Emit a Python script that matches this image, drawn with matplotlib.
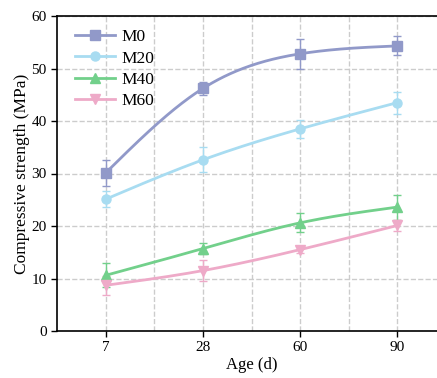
import numpy as np
import matplotlib
matplotlib.use('Agg')
import matplotlib.pyplot as plt

ages = ['7', '28', '60', '90']
series_names = ['M0', 'M20', 'M40', 'M60']
m0 = [30.1, 46.2, 52.8, 54.3]
m0_err = [2.4, 1.3, 2.8, 1.8]
m20 = [25.1, 32.6, 38.5, 43.5]
m20_err = [1.5, 2.4, 1.7, 2.1]
m40 = [10.6, 15.7, 20.6, 23.6]
m40_err = [2.3, 1.1, 1.8, 2.4]
m60 = [8.7, 11.5, 15.5, 20.1]
m60_err = [1.8, 2.0, 0.6, 1.1]

colors = ['#9199c9', '#a8dcf1', '#72d08b', '#eeaac8']
markers = ['s', 'o', '^', 'v']


def natural_spline(x, y, xs):
    # plain natural cubic spline, just for the smooth connecting curve
    x = np.asarray(x, float)
    y = np.asarray(y, float)
    n = len(x)
    h = np.diff(x)
    A = np.zeros((n, n))
    b = np.zeros(n)
    A[0, 0] = 1
    A[-1, -1] = 1
    for i in range(1, n - 1):
        A[i, i - 1] = h[i - 1]
        A[i, i] = 2 * (h[i - 1] + h[i])
        A[i, i + 1] = h[i]
        b[i] = 3 * ((y[i + 1] - y[i]) / h[i] - (y[i] - y[i - 1]) / h[i - 1])
    c = np.linalg.solve(A, b)
    out = np.zeros_like(xs)
    for j, xv in enumerate(xs):
        i = min(max(np.searchsorted(x, xv) - 1, 0), n - 2)
        dx = xv - x[i]
        bi = (y[i + 1] - y[i]) / h[i] - h[i] * (2 * c[i] + c[i + 1]) / 3
        di = (c[i + 1] - c[i]) / (3 * h[i])
        out[j] = y[i] + bi * dx + c[i] * dx ** 2 + di * dx ** 3
    return out


plt.rcParams['font.family'] = ['Liberation Serif', 'DejaVu Serif']

fig = plt.figure(figsize=(4.37, 3.78), dpi=100)
ax = fig.add_axes([57 / 437, 47 / 378, 389 / 437, 315 / 378])

xi = np.arange(len(ages))
xs = np.linspace(0, len(ages) - 1, 200)
data = [(m0, m0_err), (m20, m20_err), (m40, m40_err), (m60, m60_err)]
for (vals, err), name, col, mk in zip(data, series_names, colors, markers):
    ax.plot(xs, natural_spline(xi, vals, xs), color=col, lw=2, zorder=3)
    ax.errorbar(xi, vals, yerr=err, fmt='none', ecolor=col, elinewidth=1,
                capsize=3, capthick=1, zorder=3)
    ax.plot(xi, vals, ls='none', marker=mk, ms=6.5, color=col, zorder=4)
    ax.plot([], [], color=col, lw=2, marker=mk, ms=6.5, label=name)

ax.set_xlim(-0.5, 3.5)
ax.set_ylim(0, 60)
ax.set_xticks(xi)
ax.set_xticklabels(ages)
ax.set_xticks([0.5, 1.5, 2.5], minor=True)
ax.set_yticks(range(0, 61, 10))
ax.tick_params(which='major', direction='out', length=4, width=1, labelsize=11)
ax.tick_params(which='minor', length=0)
ax.grid(True, which='both', axis='x', ls='--', color='#cccccc', lw=1)
ax.grid(True, which='major', axis='y', ls='--', color='#cccccc', lw=1)
ax.set_axisbelow(True)
for s in ax.spines.values():
    s.set_linewidth(1.2)

ax.set_xlabel('Age (d)', fontsize=12, labelpad=2)
ax.set_ylabel('Compressive strength (MPa)', fontsize=12.5, labelpad=1)

ax.legend(loc='upper left', bbox_to_anchor=(0.013, 1.0), frameon=False,
          fontsize=12.5, handlelength=2.3, borderaxespad=0.35,
          labelspacing=0.3, handletextpad=0.4)

fig.savefig('out.png', dpi=100)
